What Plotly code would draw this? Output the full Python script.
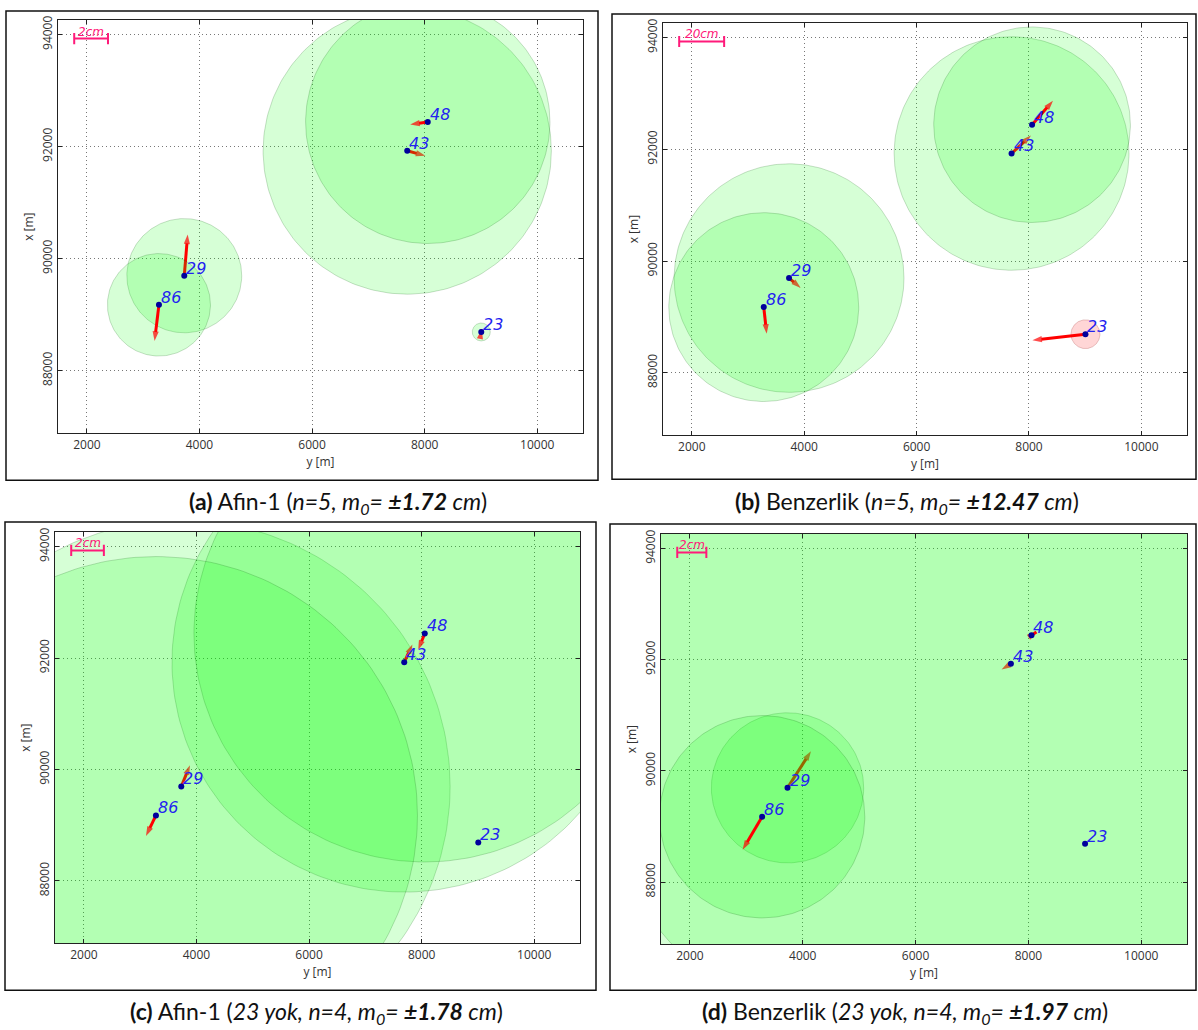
import numpy as np
import plotly.graph_objects as go

# ---------------- data ----------------
point_ids = ["29", "43", "48", "86", "23"]
point_y = [3730, 7690, 8055, 3280, 9005]      # easting  (plotted horizontally, "y [m]")
point_x = [89695, 91925, 92440, 89175, 88690]  # northing (plotted vertically,  "x [m]")

# panel (a) Afin-1, n=5  (order: 29, 43, 48, 86, 23)
a_ids = ["29", "43", "48", "86", "23"]
a_radius = [1020, 2560, 2170, 915, 160]
a_dE = [0.20, 1.07, -1.04, -0.26, 0.03]
a_dN = [2.45, -0.30, -0.15, -2.15, 0.15]
a_bad = [False, False, False, False, False]
a_scale = 300   # metres of plot per cm of residual
a_bar = 2

# panel (b) Benzerlik, n=5
b_ids = ["29", "43", "48", "86", "23"]
b_radius = [2045, 2090, 1750, 1690, 258]
b_dE = [5.2, 8.6, 9.3, 1.3, -23.6]
b_dN = [-4.4, 8.1, 10.7, -11.9, -2.7]
b_bad = [False, False, False, False, True]
b_scale = 40
b_bar = 20

# panel (c) Afin-1, 23 excluded
c_ids = ["29", "43", "48", "86"]
c_radius = [4775, 4125, 4100, 4645]
c_dE = [0.53, 0.50, -0.40, -0.61]
c_dN = [1.31, 1.10, -1.00, -1.27]
c_bad = [False, False, False, False]
c_scale = 290
c_bar = 2

# panel (d) Benzerlik, 23 excluded
d_ids = ["29", "43", "48", "86"]
d_radius = [1350, 8300, 8460, 1820]
d_dE = [1.61, -0.64, 0.34, -1.34]
d_dN = [2.55, -0.39, 0.23, -2.30]
d_bad = [False, False, False, False]
d_scale = 258
d_bar = 2

x_ticks = [2000, 4000, 6000, 8000, 10000]
y_ticks = [88000, 90000, 92000, 94000]
x_range = [1487, 10812]
y_range = [86880, 94262]

captions = [
    "<b>(a)</b> Afin-1 (<i>n=5, m<sub>0</sub>= </i><b><i>±1.72</i></b><i> cm</i>)",
    "<b>(b)</b> Benzerlik (<i>n=5, m<sub>0</sub>= </i><b><i>±12.47</i></b><i> cm</i>)",
    "<b>(c)</b> Afin-1 (<i>23 yok, n=4, m<sub>0</sub>= </i><b><i>±1.78</i></b><i> cm</i>)",
    "<b>(d)</b> Benzerlik (<i>23 yok, n=4, m<sub>0</sub>= </i><b><i>±1.97</i></b><i> cm</i>)",
]

# ---------------- layout geometry (pixels) ----------------
W, H = 1198, 1030
plot_boxes = [(58, 583, 16, 431), (663, 1187, 19, 433), (55, 580, 530, 943), (661, 1187, 532, 944)]
frame_boxes = [(6, 598, 7, 478), (612, 1196, 10, 477), (5, 596, 520, 990), (610, 1196, 522, 990)]
caption_pos = [(338, 500), (907, 500), (316, 1012), (905, 1012)]

panels = [
    (a_ids, a_radius, a_dE, a_dN, a_bad, a_scale, a_bar),
    (b_ids, b_radius, b_dE, b_dN, b_bad, b_scale, b_bar),
    (c_ids, c_radius, c_dE, c_dN, c_bad, c_scale, c_bar),
    (d_ids, d_radius, d_dE, d_dN, d_bad, d_scale, d_bar),
]

GREEN = "rgba(0,255,0,0.16)"
RED_FILL = "rgba(255,0,0,0.16)"
EDGE = "rgba(0,90,0,0.2)"
RED_EDGE = "rgba(140,0,0,0.2)"
PINK = "#ff1a7a"
theta = np.linspace(0, 2 * np.pi, 241)

fig = go.Figure()
shapes = []
annotations = []
lookup = {pid: (py, px) for pid, py, px in zip(point_ids, point_y, point_x)}

for i, (ids, rad, dE, dN, bad, scale, bar) in enumerate(panels):
    n = "" if i == 0 else str(i + 1)
    xr, yr = "x" + n, "y" + n
    for pid, r, b, e, nn in zip(ids, rad, bad, dE, dN):
        py, px = lookup[pid]
        # confidence circle
        fig.add_trace(go.Scatter(
            x=py + r * np.cos(theta), y=px + r * np.sin(theta), xaxis=xr, yaxis=yr,
            mode="lines", fill="toself", fillcolor=RED_FILL if b else GREEN,
            line=dict(color=RED_EDGE if b else EDGE, width=1),
            showlegend=False, hoverinfo="skip"))
        # residual arrow
        fig.add_trace(go.Scatter(
            x=[py, py + e * scale], y=[px, px + nn * scale], xaxis=xr, yaxis=yr,
            mode="lines+markers", line=dict(color="#ff0000", width=3),
            marker=dict(symbol=["circle", "arrow"], size=[0, 10], angleref="previous",
                        color="#ff0000", line=dict(width=0)),
            showlegend=False, hoverinfo="skip"))
    # points
    fig.add_trace(go.Scatter(
        x=point_y, y=point_x, xaxis=xr, yaxis=yr, mode="markers",
        marker=dict(color="#00009c", size=6), showlegend=False, hoverinfo="skip"))
    # labels
    for pid, py, px in zip(point_ids, point_y, point_x):
        annotations.append(dict(x=py, y=px, xref=xr, yref=yr, text="<i>" + pid + "</i>",
                                showarrow=False, xanchor="left", yanchor="bottom",
                                xshift=0, yshift=-4,
                                font=dict(family="DejaVu Sans", size=16, color="#2323f0")))
    # scale bar
    bx0, by = 1775, 93930
    fig.add_trace(go.Scatter(
        x=[bx0, bx0 + bar * scale], y=[by, by], xaxis=xr, yaxis=yr, mode="lines+markers",
        line=dict(color=PINK, width=2),
        marker=dict(symbol="line-ns", size=8, line=dict(color=PINK, width=2)),
        showlegend=False, hoverinfo="skip"))
    annotations.append(dict(x=bx0 + bar * scale / 2, y=by, xref=xr, yref=yr,
                            text="<i>%dcm</i>" % bar, showarrow=False, yanchor="bottom",
                            yshift=-2, font=dict(family="DejaVu Sans", size=12, color=PINK)))

    # axes
    l, r_, t, btm = plot_boxes[i]
    common = dict(showline=True, linecolor="#222", linewidth=1.2, mirror="ticks",
                  showgrid=True, gridcolor="#777", griddash="1px,3px", gridwidth=1,
                  zeroline=False, ticks="inside", ticklen=4, tickcolor="#222",
                  tickfont=dict(family="Open Sans", size=12, color="#333"))
    fig.layout["xaxis" + n] = dict(domain=[l / W, r_ / W], anchor=yr, range=x_range,
                                   tickvals=x_ticks, ticktext=[str(v) for v in x_ticks],
                                   title=dict(text="y [m]", standoff=4,
                                              font=dict(family="Open Sans", size=12, color="#333")),
                                   **common)
    fig.layout["yaxis" + n] = dict(domain=[1 - btm / H, 1 - t / H], anchor=xr, range=y_range,
                                   tickvals=y_ticks, ticktext=[str(v) for v in y_ticks],
                                   tickangle=-90,
                                   title=dict(text="x [m]", standoff=2,
                                              font=dict(family="Open Sans", size=12, color="#333")),
                                   **common)
    # outer frame
    fl, fr, ft, fb = frame_boxes[i]
    shapes.append(dict(type="rect", xref="paper", yref="paper", x0=fl / W, x1=fr / W,
                       y0=1 - fb / H, y1=1 - ft / H, line=dict(color="#111", width=1.5),
                       layer="below"))
    cx, cy = caption_pos[i]
    annotations.append(dict(x=cx / W, y=1 - cy / H, xref="paper", yref="paper",
                            text=captions[i], showarrow=False, xanchor="center", yanchor="middle",
                            font=dict(family="Lato", size=23, color="#111")))

fig.update_layout(width=W, height=H, margin=dict(l=0, r=0, t=0, b=0),
                  paper_bgcolor="white", plot_bgcolor="white",
                  shapes=shapes, annotations=annotations, showlegend=False)
fig.write_html("out.html", config={"displayModeBar": False},
               post_script="document.body.style.margin='0px';")
